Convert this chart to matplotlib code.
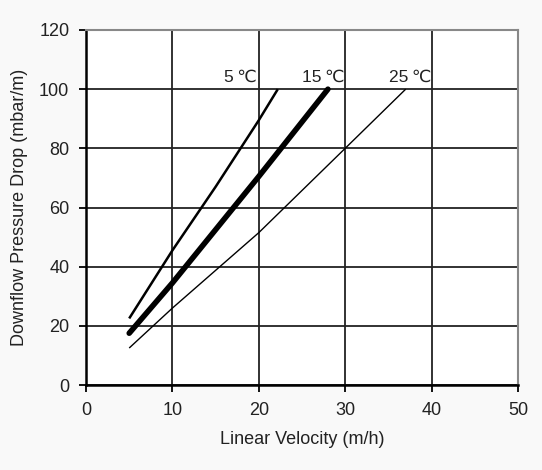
import matplotlib.pyplot as plt

velocity_5c = [5.0, 10, 15, 20, 22.2]
drop_5c = [22.5, 45.5, 67, 89.5, 100]

velocity_15c = [5.0, 10, 20, 28.0]
drop_15c = [17.5, 34.5, 70.5, 100]

velocity_25c = [5.0, 10, 20, 30, 37.0]
drop_25c = [12.5, 26, 51.5, 80, 100]

curve_labels = ["5\u2009℃", "15\u2009℃", "25\u2009℃"]
label_x = [19.8, 29.9, 40.0]

x_ticks = [0, 10, 20, 30, 40, 50]
y_ticks = [0, 20, 40, 60, 80, 100, 120]


def main():
    plt.rcParams['font.family'] = ['Liberation Sans', 'DejaVu Sans']
    fig = plt.figure(figsize=(5.42, 4.70), dpi=100, facecolor='#f9f9f9')
    ax = fig.add_axes([86 / 542, (470 - 385) / 470, 432 / 542, 355 / 470])
    ax.set_facecolor('white')

    ax.plot(velocity_5c, drop_5c, color='black', lw=1.8,
            solid_capstyle='butt')
    ax.plot(velocity_15c, drop_15c, color='black', lw=4.0,
            solid_capstyle='round')
    ax.plot(velocity_25c, drop_25c, color='black', lw=1.0,
            solid_capstyle='butt')

    for txt, xp in zip(curve_labels, label_x):
        ax.text(xp, 101.5, txt, ha='right', va='bottom', fontsize=12.5,
                color='#222222')

    ax.set_xlim(0, 50)
    ax.set_ylim(0, 120)
    ax.set_xticks(x_ticks)
    ax.set_yticks(y_ticks)
    ax.grid(True, color='#222222', lw=1.3)
    ax.set_axisbelow(True)

    for side in ['top', 'right']:
        ax.spines[side].set_color('#888888')
        ax.spines[side].set_linewidth(1.5)
    for side in ['left', 'bottom']:
        ax.spines[side].set_color('black')
        ax.spines[side].set_linewidth(1.8)

    ax.tick_params(direction='out', length=5, width=1.3, labelsize=13,
                   colors='black', labelcolor='#222222', pad=7)
    ax.set_xlabel("Linear Velocity (m/h)", fontsize=13, color='#222222',
                  labelpad=9)
    ax.set_ylabel("Downflow Pressure Drop (mbar/m)", fontsize=13,
                  color='#222222', labelpad=8)

    fig.savefig("out.png", dpi=100, facecolor=fig.get_facecolor())


if __name__ == "__main__":
    main()
